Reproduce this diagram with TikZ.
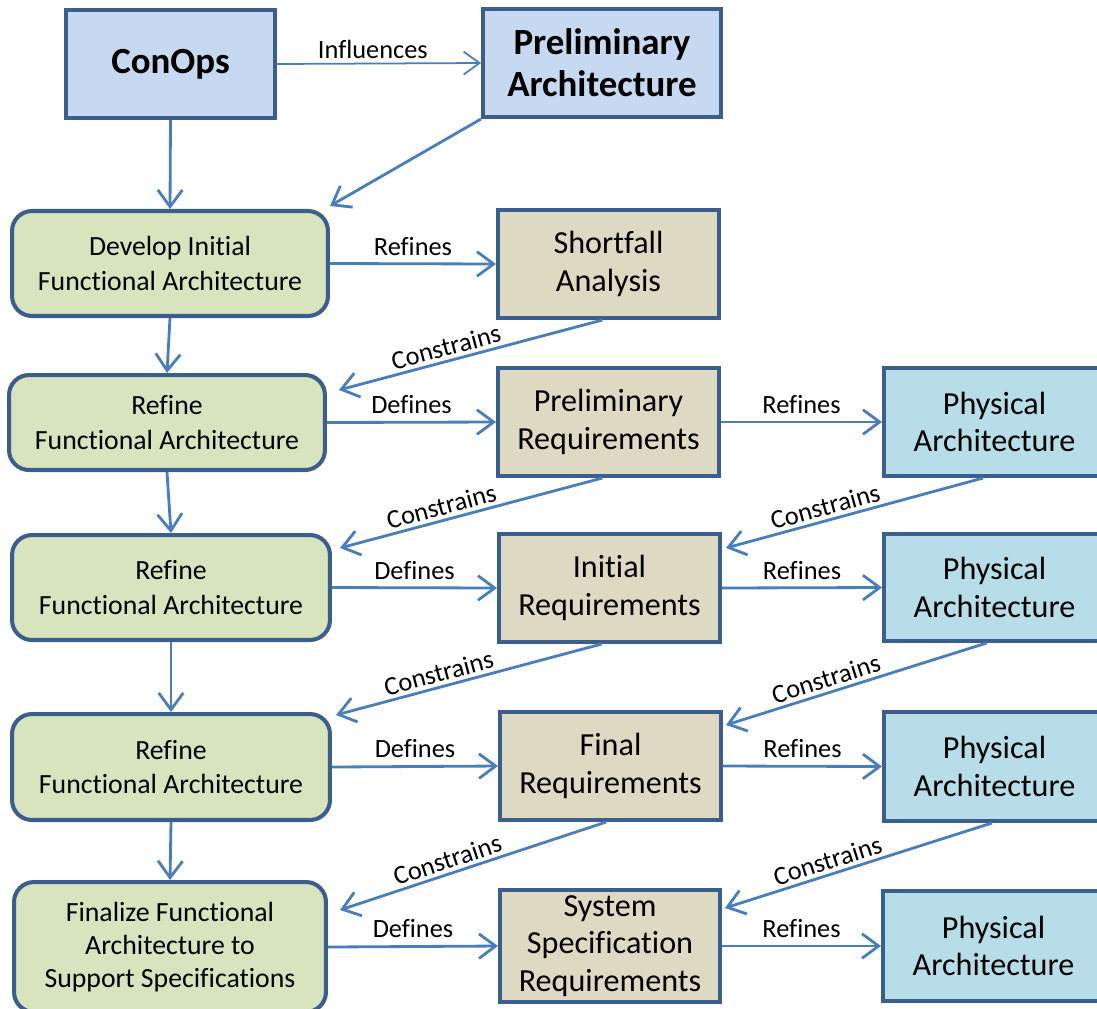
\documentclass[tikz,border=0pt]{standalone}
\usepackage{fontspec}
\setmainfont{Carlito}[Ligatures=NoCommon]
\usetikzlibrary{arrows.meta,calc}

\definecolor{edgeblue}{HTML}{3B5E8C}
\definecolor{linkblue}{HTML}{4A7EBB}
\definecolor{opsfill}{HTML}{C6D9F1}
\definecolor{funcfill}{HTML}{D7E4BD}
\definecolor{reqfill}{HTML}{DDD9C3}
\definecolor{physfill}{HTML}{B7DEE8}

\tikzset{
  box/.style={draw=edgeblue, line width=2.3pt, align=center, inner sep=0pt},
  topbox/.style={box, fill=opsfill, font=\fontsize{21}{24}\selectfont\bfseries},
  funcbox/.style={box, fill=funcfill, rounded corners=0.4cm, font=\fontsize{15.8}{19.5}\selectfont},
  reqbox/.style={box, fill=reqfill, font=\fontsize{18.3}{21.5}\selectfont},
  physbox/.style={box, fill=physfill, font=\fontsize{18.3}{21.5}\selectfont},
  link/.style={draw=linkblue, line width=1.6pt, -{Straight Barb[length=9.5pt,width=14pt,line width=1.6pt]}},
  thinlink/.style={draw=linkblue, line width=1pt, -{Straight Barb[length=9pt,width=13pt,line width=1pt]}},
  lbl/.style={font=\fontsize{15}{17}\selectfont, inner sep=2pt}
}

\begin{document}
\begin{tikzpicture}[x=0.02cm, y=-0.02cm]
  \useasboundingbox (0,0) rectangle (1097,1008);
  \clip (0,0) rectangle (1097,1008);

  % top row
  \node[topbox, minimum width=4.18cm, minimum height=2.16cm] (conops) at (170.5,64) {ConOps};
  \node[topbox, minimum width=4.76cm, minimum height=2.16cm] (prelarch) at (602,63) {Preliminary\\Architecture};

  % functional architecture column
  \node[funcbox, minimum width=6.32cm, minimum height=2.10cm] (develop) at (170,263.5) {Develop Initial\\Functional Architecture};
  \node[funcbox, minimum width=6.32cm, minimum height=1.90cm] (refineA) at (167,422.5) {Refine\\Functional Architecture};
  \node[funcbox, minimum width=6.36cm, minimum height=2.10cm] (refineB) at (171,587.5) {Refine\\Functional Architecture};
  \node[funcbox, minimum width=6.36cm, minimum height=2.12cm] (refineC) at (171,767) {Refine\\Functional Architecture};
  \node[funcbox, minimum width=6.24cm, minimum height=2.60cm, font=\fontsize{15.8}{19}\selectfont] (finalize) at (170,947) {Finalize Functional\\Architecture to\\Support Specifications};

  % requirements column
  \node[reqbox, minimum width=4.42cm, minimum height=2.16cm] (shortfall) at (608.5,264) {Shortfall\\Analysis};
  \node[reqbox, minimum width=4.42cm, minimum height=2.16cm] (prelreq) at (608.5,422) {Preliminary\\Requirements};
  \node[reqbox, minimum width=4.42cm, minimum height=2.16cm] (initreq) at (609.5,588) {Initial\\Requirements};
  \node[reqbox, minimum width=4.42cm, minimum height=2.16cm] (finalreq) at (610.5,766) {Final\\Requirements};
  \node[reqbox, minimum width=4.40cm, minimum height=2.24cm] (sysspec) at (610,946) {System\\Specification\\Requirements};

  % physical architecture column
  \node[physbox, minimum width=4.42cm, minimum height=2.16cm] (physA) at (994.5,422) {Physical\\Architecture};
  \node[physbox, minimum width=4.42cm, minimum height=2.14cm] (physB) at (994.5,587.5) {Physical\\Architecture};
  \node[physbox, minimum width=4.42cm, minimum height=2.18cm] (physC) at (994.5,766.5) {Physical\\Architecture};
  \node[physbox, minimum width=4.42cm, minimum height=2.20cm] (physD) at (993.5,946) {Physical\\Architecture};

  % influence links from the top row
  \draw[thinlink] (conops.east) -- node[lbl, above, pos=0.47] {Influences} (prelarch.west);
  \draw[link] (conops.south) -- (develop.north);
  \draw[link] (prelarch.south west) -- ([shift={(0,-3)}]develop.north east);

  % vertical flow of the functional architecture
  \draw[link] (develop.south) -- (refineA.north);
  \draw[link] (refineA.south) -- (refineB.north);
  \draw[link] (refineB.south) -- (refineC.north);
  \draw[link] (refineC.south) -- (finalize.north);

  % horizontal links
  \draw[link] (develop.east) -- node[lbl, above, yshift=2pt] {Refines} (shortfall.west);
  \draw[link] (refineA.east) -- node[lbl, above, yshift=2pt] {Defines} (prelreq.west);
  \draw[link] (refineB.east) -- node[lbl, above, yshift=2pt] {Defines} (initreq.west);
  \draw[link] (refineC.east) -- node[lbl, above, yshift=2pt] {Defines} (finalreq.west);
  \draw[link] (finalize.east) -- node[lbl, above, yshift=2pt] {Defines} (sysspec.west);
  \draw[link] (prelreq.east) -- node[lbl, above, yshift=2pt] {Refines} (physA.west);
  \draw[link] (initreq.east) -- node[lbl, above, yshift=2pt] {Refines} (physB.west);
  \draw[link] (finalreq.east) -- node[lbl, above, yshift=2pt] {Refines} (physC.west);
  \draw[link] (sysspec.east) -- node[lbl, above, yshift=2pt] {Refines} (physD.west);

  % constraint feedback links
  \draw[link] ([xshift=-3.5]shortfall.south) -- node[lbl, above, sloped, pos=0.58] {Constrains} ([shift={(12,17)}]refineA.north east);
  \draw[link] ([xshift=-3.5]prelreq.south) -- node[lbl, above, sloped, pos=0.6] {Constrains} ([shift={(8,15)}]refineB.north east);
  \draw[link] ([xshift=-4.5]initreq.south) -- node[lbl, above, sloped, pos=0.6] {Constrains} ([shift={(4,3)}]refineC.north east);
  \draw[link] ([xshift=-2.5]finalreq.south) -- node[lbl, above, sloped, pos=0.58] {Constrains} ([shift={(12,30)}]finalize.north east);
  \draw[link] ([xshift=-6.5]physA.south) -- node[lbl, above, sloped, pos=0.6] {Constrains} ([shift={(4,16)}]initreq.north east);
  \draw[link] ([xshift=-4.5]physB.south) -- node[lbl, above, sloped, pos=0.6] {Constrains} ([shift={(3,15)}]finalreq.north east);
  \draw[link] ([xshift=-1.5]physC.south) -- node[lbl, above, sloped, pos=0.6] {Constrains} ([shift={(3,20)}]sysspec.north east);
\end{tikzpicture}
\end{document}
